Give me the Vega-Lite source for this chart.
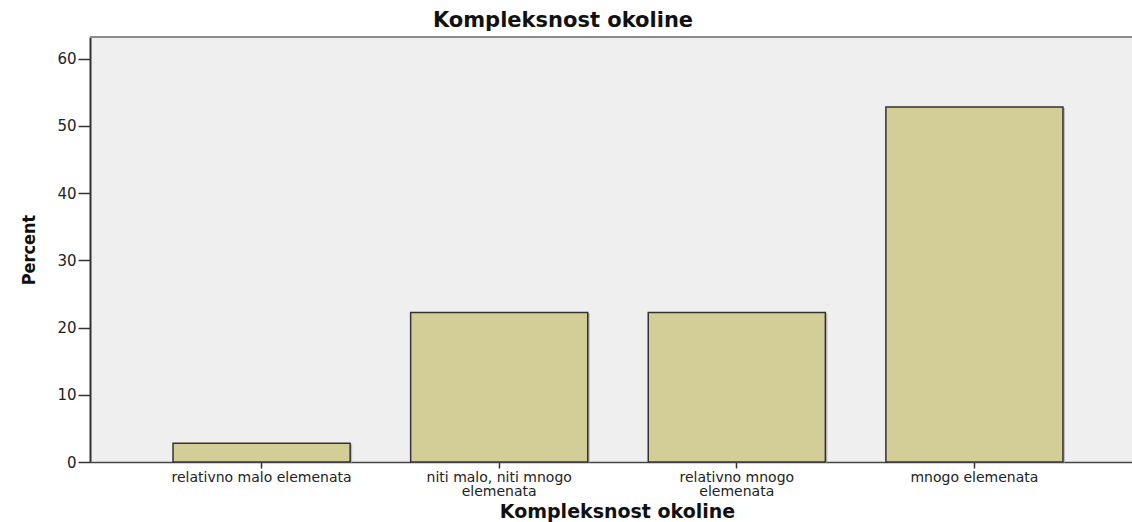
{
  "$schema": "https://vega.github.io/schema/vega-lite/v6.json",
  "autosize": "none",
  "width": 1042,
  "height": 425,
  "padding": {"left": 90, "top": 37, "right": 0, "bottom": 60},
  "background": "#ffffff",
  "title": {
    "text": "Kompleksnost okoline",
    "font": "DejaVu Sans",
    "fontSize": 21,
    "fontWeight": "bold",
    "color": "#111111",
    "anchor": "middle",
    "dx": -48,
    "offset": 5
  },
  "config": {
    "view": {"fill": "#efefef", "stroke": null},
    "axis": {"grid": false}
  },
  "data": {
    "values": [
      {"kategorija": "relativno malo elemenata", "percent": 2.78},
      {"kategorija": "niti malo, niti mnogo elemenata", "percent": 22.22},
      {"kategorija": "relativno mnogo elemenata", "percent": 22.22},
      {"kategorija": "mnogo elemenata", "percent": 52.78}
    ]
  },
  "encoding": {
    "x": {
      "field": "kategorija",
      "type": "nominal",
      "sort": null,
      "scale": {"paddingInner": 0.2547, "paddingOuter": 0.32, "align": 0.546},
      "axis": {
        "title": "Kompleksnost okoline",
        "titleFont": "DejaVu Sans",
        "titleFontSize": 19,
        "titleFontWeight": "bold",
        "titleColor": "#111111",
        "titleX": 527,
        "titlePadding": 4,
        "labelAngle": 0,
        "labelFont": "DejaVu Sans",
        "labelFontSize": 14,
        "labelColor": "#222222",
        "labelPadding": 2,
        "labelLimit": 0,
        "labelLineHeight": 14,
        "labelBaseline": "top",
        "labelExpr": "datum.label == 'niti malo, niti mnogo elemenata' ? ['niti malo, niti mnogo', 'elemenata'] : datum.label == 'relativno mnogo elemenata' ? ['relativno mnogo', 'elemenata'] : datum.label",
        "tickSize": 6,
        "tickColor": "#333333",
        "tickWidth": 1.5,
        "domainColor": "#444444",
        "domainWidth": 1.5
      }
    },
    "y": {
      "field": "percent",
      "type": "quantitative",
      "scale": {"domain": [0, 63.2], "nice": false},
      "axis": {
        "title": "Percent",
        "titleFont": "DejaVu Sans Condensed, Liberation Sans, sans-serif",
        "titleFontSize": 18,
        "titleFontWeight": "bold",
        "titleColor": "#111111",
        "titlePadding": 18,
        "values": [0, 10, 20, 30, 40, 50, 60],
        "labelFont": "DejaVu Sans",
        "labelFontSize": 15,
        "labelColor": "#222222",
        "labelPadding": 2,
        "tickSize": 12,
        "tickColor": "#333333",
        "tickWidth": 1.5,
        "domainColor": "#333333",
        "domainWidth": 2
      }
    }
  },
  "layer": [
    {
      "mark": {"type": "rule", "color": "#8c8c8c", "strokeWidth": 2},
      "encoding": {"y": {"datum": 63.2}, "x": null}
    },
    {
      "mark": {"type": "bar", "color": "#9a9a9a", "opacity": 0.6, "xOffset": 2, "yOffset": 1}
    },
    {
      "mark": {"type": "bar", "color": "#d3ce97", "stroke": "#333333", "strokeWidth": 1.5}
    }
  ]
}
